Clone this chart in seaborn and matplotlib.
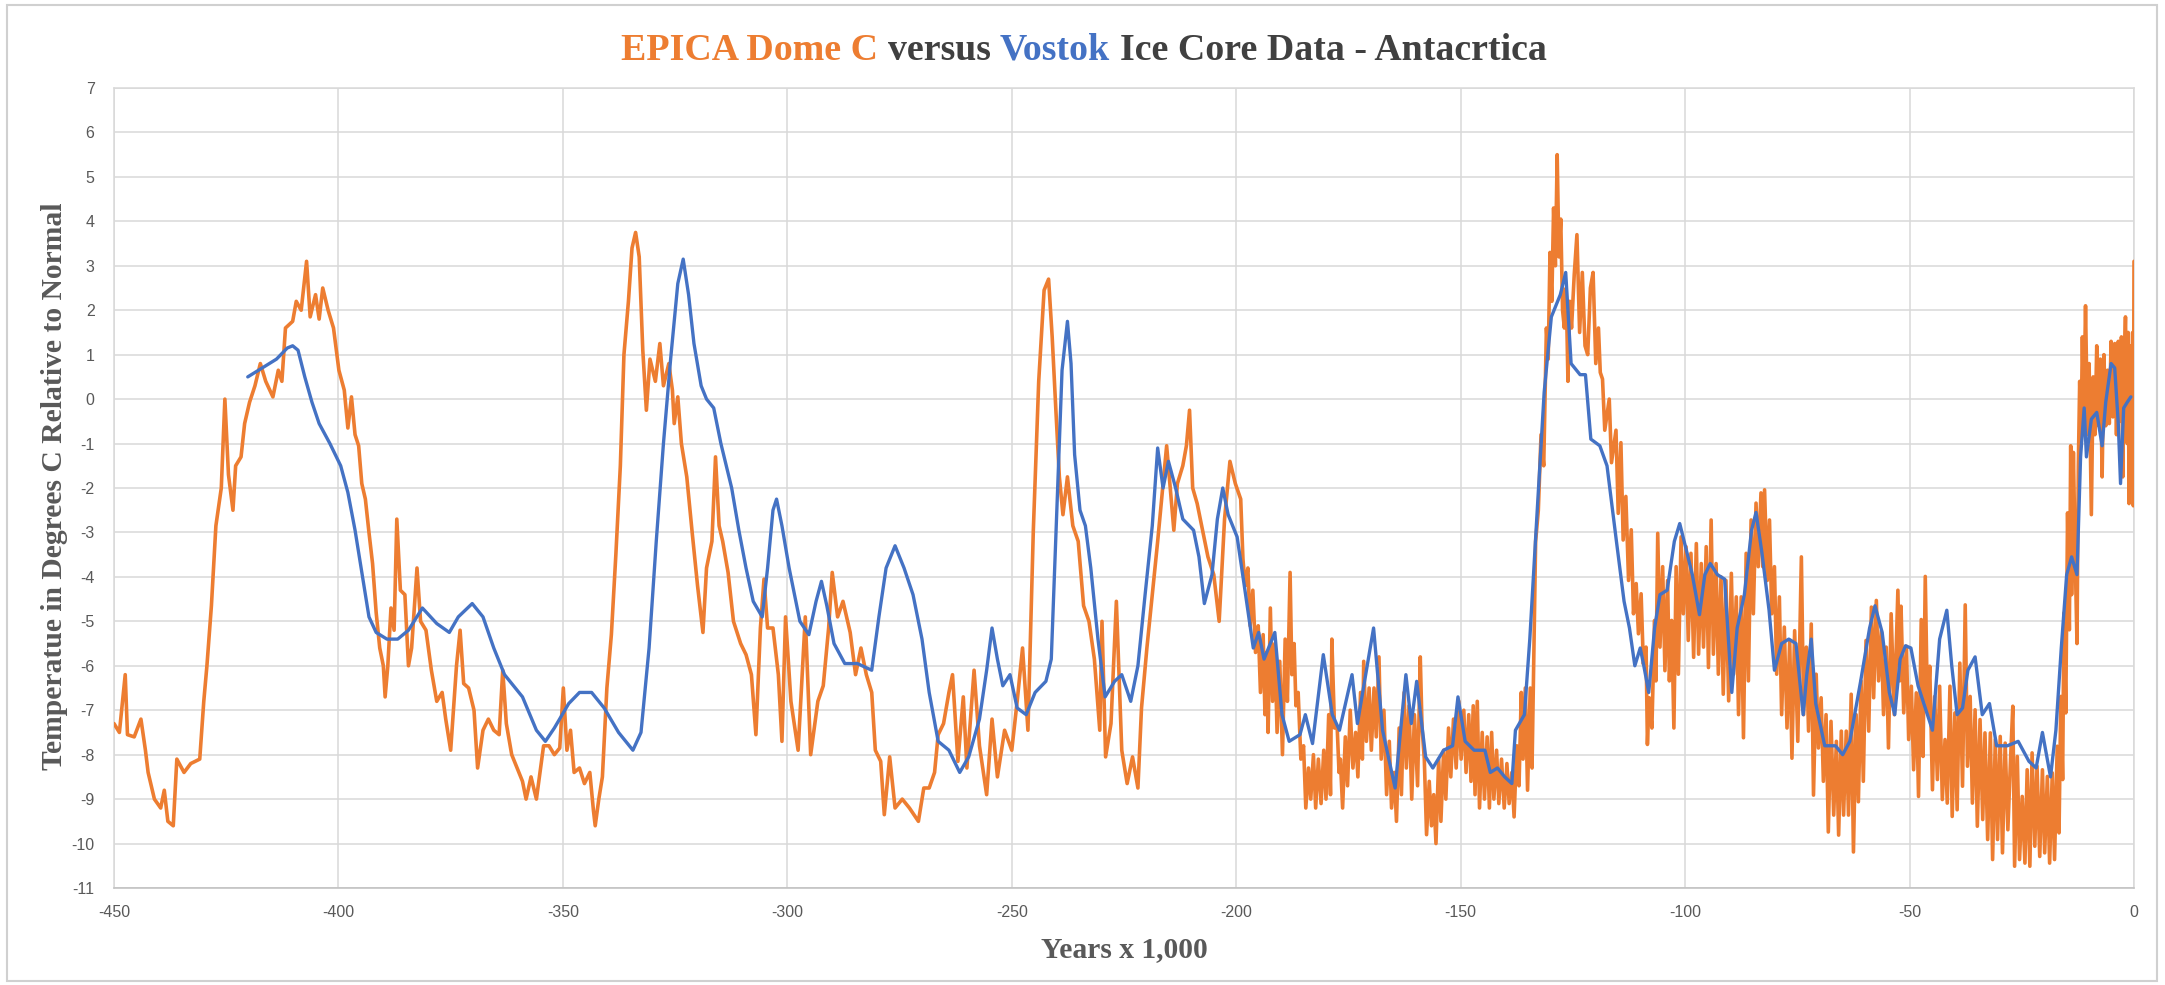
import numpy as np
import pandas as pd
import matplotlib
matplotlib.use("Agg")
import matplotlib.pyplot as plt
from matplotlib.patches import Rectangle
import seaborn as sns

# ---------------- data ----------------
# EPICA Dome C, segment -450 .. -199 kyr
epica_years_a = [
    -450, -448.8, -447.5, -447, -445.5, -444, -443, -442.4, -441, -439.6, -438.8, -438, -436.8, -436,
    -434.4, -432.9, -430.9, -430, -429.3, -428.3, -427.3, -426.1, -425.3, -424.5, -423.5, -422.9,
    -421.7, -420.9, -419.8, -418.6, -417.4, -416.2, -414.6, -413.4, -412.6, -411.8, -410.2, -409.4,
    -408.3, -407.1, -406.3, -405.1, -404.3, -403.5, -402.3, -401.1, -399.9, -398.7, -397.9, -397.1,
    -396.3, -395.5, -394.8, -394, -393.2, -392.4, -391.6, -390.8, -390, -389.6, -389, -388.3, -387.6,
    -387, -386.2, -385.2, -384.4, -383.7, -382.5, -381.7, -380.5, -379.3, -378.1, -376.9, -376.1,
    -375, -373.7, -372.9, -372.1, -371, -369.8, -369, -367.8, -366.6, -365.4, -364.2, -363.4, -362.6,
    -361.4, -360.2, -359, -358.2, -357.1, -355.9, -354.3, -353.1, -351.9, -350.7, -349.9, -349.1,
    -348.3, -347.5, -346.3, -345.2, -344, -343.2, -342.8, -342, -341.2, -340.2, -339.2, -338.2,
    -337.2, -336.4, -335.4, -334.6, -333.8, -333.0, -332.2, -331.4, -330.6, -329.4, -328.4, -327.6,
    -326.4, -325.6, -325.2, -324.4, -323.6, -322.4, -321.2, -320, -318.8, -318, -316.8, -316, -315.2,
    -314.4, -313.2, -312, -310.4, -309.2, -308, -307, -306, -305.2, -304.4, -303.2, -302, -301.2,
    -300.4, -299.2, -297.6, -296, -294.8, -293.2, -292, -290.8, -290, -288.8, -287.6, -286, -284.8,
    -283.6, -282.4, -281.2, -280.4, -279.2, -278.4, -277.2, -276, -274.4, -272.8, -270.8, -269.6,
    -268.4, -267.2, -266.4, -265.2, -264, -263.2, -262, -260.8, -260, -258.4, -257.2, -255.6, -254.4,
    -253.2, -251.6, -250, -248.8, -247.6, -246.4, -245.2, -244, -242.8, -241.8, -241, -240.2, -239.4,
    -238.6, -237.6, -236.4, -235.2, -234, -232.8, -231.6, -230.4, -229.9, -229.1, -227.9, -226.7,
    -225.5, -224.3, -223.1, -221.9, -221.1, -219.9, -218.7, -217.5, -216.3, -215.5, -214.7, -213.9,
    -213.1, -211.9, -211.1, -210.4, -209.7, -208.7, -207.5, -206.3, -205, -203.8, -202.6, -201.4,
    -200.2, -199,
]
epica_temp_a = [
    -7.3, -7.5, -6.2, -7.55, -7.6, -7.2, -7.9, -8.4, -9.0, -9.2, -8.8, -9.5, -9.6, -8.1,
    -8.4, -8.2, -8.1, -6.8, -6.0, -4.65, -2.85, -2.0, 0.0, -1.7, -2.5, -1.5,
    -1.3, -0.55, -0.07, 0.3, 0.8, 0.4, 0.05, 0.65, 0.4, 1.6, 1.75, 2.2,
    2.0, 3.1, 1.85, 2.35, 1.8, 2.5, 2.0, 1.6, 0.65, 0.2, -0.65, 0.05,
    -0.8, -1.05, -1.9, -2.25, -3.0, -3.7, -4.8, -5.6, -6.0, -6.7, -6.0, -4.7, -5.2,
    -2.7, -4.3, -4.4, -6.0, -5.6, -3.8, -5.0, -5.2, -6.1, -6.8, -6.6, -7.2,
    -7.9, -6.0, -5.2, -6.4, -6.5, -7.0, -8.3, -7.45, -7.2, -7.45, -7.55, -6.1, -7.3,
    -8.0, -8.3, -8.6, -9.0, -8.5, -9.0, -7.8, -7.8, -8.0, -7.85, -6.5, -7.9,
    -7.45, -8.4, -8.3, -8.65, -8.4, -9.25, -9.6, -9.0, -8.5, -6.5, -5.3, -3.5,
    -1.5, 1.0, 2.2, 3.4, 3.75, 3.2, 1.1, -0.25, 0.9, 0.4, 1.25, 0.3,
    0.8, 0.2, -0.55, 0.05, -1.0, -1.75, -3.0, -4.2, -5.25, -3.8, -3.2, -1.3, -2.85,
    -3.2, -3.9, -5.0, -5.5, -5.75, -6.2, -7.55, -5.15, -4.05, -5.15, -5.15, -6.2, -7.7,
    -4.9, -6.8, -7.9, -4.9, -8.0, -6.8, -6.45, -5.15, -3.9, -4.9, -4.55, -5.25, -6.2,
    -5.6, -6.2, -6.6, -7.9, -8.15, -9.35, -8.05, -9.2, -9.0, -9.2, -9.5, -8.75,
    -8.75, -8.4, -7.55, -7.3, -6.6, -6.2, -8.15, -6.7, -8.3, -6.1, -7.8, -8.9, -7.2,
    -8.5, -7.45, -7.9, -6.8, -5.6, -7.45, -2.95, 0.4, 2.45, 2.7, 1.4, -0.2, -1.75,
    -2.6, -1.75, -2.85, -3.2, -4.65, -5.0, -5.85, -7.45, -5.0, -8.05, -7.3, -4.55,
    -7.9, -8.65, -8.05, -8.75, -6.95, -5.6, -4.4, -3.2, -1.9, -1.05, -2.0, -2.95,
    -1.9, -1.5, -1.05, -0.25, -2.0, -2.35, -2.95, -3.55, -3.95, -5.0, -2.7, -1.4,
    -1.9, -2.25,
]
# EPICA, segment -198.5 .. -134 kyr (noisy band: alternating highs and lows)
epica_years_b = [
    -198.5, -198.0, -197.4, -196.9, -196.3, -195.7, -195.1, -194.6, -194.0, -193.6, -193.3, -192.9,
    -192.4, -191.9, -191.4, -190.9, -190.3, -189.7, -189.1, -188.6, -188.0, -187.6, -187.1, -186.7,
    -186.2, -185.6, -185.0, -184.5, -183.9, -183.4, -182.8, -182.3, -181.7, -181.1, -180.5, -180.0,
    -179.4, -179.0, -178.7, -178.1, -177.5, -177.1, -176.8, -176.3, -175.7, -175.2, -174.6, -174.0,
    -173.4, -172.9, -172.3, -171.9, -171.6, -171.0, -170.4, -169.9, -169.3, -168.8, -168.2, -167.7,
    -167.1, -166.5, -165.9, -165.4, -164.8, -164.3, -163.7, -163.2, -162.6, -162.1, -161.5, -160.9,
    -160.3, -159.6, -159.0, -158.6, -158.1, -157.6, -157.0, -156.5, -156.0, -155.5, -154.9, -154.4,
    -153.8, -153.3, -152.7, -152.2, -151.6, -151.0, -150.4, -149.9, -149.3, -148.8, -148.2, -147.7,
    -147.2, -146.8, -146.3, -145.8, -145.2, -144.7, -144.1, -143.6, -143.1, -142.6, -142.0, -141.5,
    -140.9, -140.3, -139.7, -139.2, -138.6, -138.1, -137.5, -137.0, -136.5, -136.1, -135.6, -135.1,
    -134.5, -134.1,
]
epica_temp_b = [
    -3.6, -4.2, -3.8, -5.1, -4.3, -5.7, -5.1, -6.6, -5.3, -7.1, -5.7, -7.5,
    -4.7, -6.8, -5.5, -7.5, -5.9, -8.0, -5.4, -6.8, -3.9, -6.2, -5.5, -6.9,
    -6.6, -8.1, -7.8, -9.2, -8.3, -9.0, -8.0, -9.2, -8.1, -9.1, -7.9, -9.0,
    -7.1, -8.9, -5.4, -7.4, -7.4, -8.4, -8.1, -9.2, -7.6, -8.7, -7.0, -8.3,
    -7.5, -8.5, -6.6, -8.1, -5.9, -7.7, -6.5, -7.9, -6.5, -7.6, -5.8, -8.1,
    -7.0, -8.9, -7.7, -9.2, -8.4, -9.5, -7.4, -8.9, -6.6, -8.3, -6.9, -9.0,
    -7.1, -8.7, -5.8, -7.4, -8.1, -9.8, -8.6, -9.6, -8.9, -10.0, -8.1, -9.5,
    -7.9, -9.0, -7.4, -8.5, -7.2, -8.3, -6.8, -8.1, -7.0, -8.4, -7.1, -8.6,
    -6.9, -8.9, -6.8, -9.2, -7.5, -9.0, -7.6, -9.2, -7.5, -9.0, -7.9, -9.1,
    -8.1, -9.2, -8.2, -9.1, -8.4, -9.4, -7.8, -8.7, -6.6, -8.1, -6.5, -8.8,
    -6.5, -8.3,
]
# EPICA, segment -133.3 .. -118.9 kyr (last interglacial peak)
epica_years_c = [
    -133.3, -132.7, -132.1, -131.5, -130.9, -130.5, -130.1, -129.7, -129.3, -128.9, -128.5, -128.1,
    -127.7, -127.3, -126.9, -126.5, -126.1, -125.7, -125.3, -124.7, -124.1, -123.5, -122.9, -122.3,
    -121.7, -121.1, -120.5, -119.9, -119.3, -118.9,
]
epica_temp_c = [
    -3.2, -2.5, -0.8, -1.5, 1.6, 0.9, 3.3, 2.2, 4.3, 3.0, 5.5, 3.2,
    4.05, 2.0, 1.6, 2.5, 0.4, 2.2, 1.6, 2.8, 3.7, 1.5, 2.85, 1.2,
    1.0, 2.5, 2.85, 0.8, 1.6, 0.6,
]
# EPICA, segment -118.4 .. -52.2 kyr
epica_years_d = [
    -118.4, -117.9, -116.9, -116.4, -115.4, -114.9, -114.3, -113.8, -113.2, -112.6, -112.0, -111.5,
    -110.9, -110.4, -109.8, -109.3, -108.7, -108.4, -108.0, -107.4, -106.8, -106.5, -106.1, -105.6,
    -105.0, -104.5, -103.9, -103.5, -103.0, -102.5, -102.0, -101.5, -100.9, -100.4, -99.8, -99.3,
    -98.7, -98.1, -97.5, -97.0, -96.4, -95.9, -95.3, -94.8, -94.2, -93.7, -93.1, -92.6,
    -92.0, -91.5, -90.9, -90.3, -89.7, -89.2, -88.6, -88.1, -87.5, -87.0, -86.4, -85.9,
    -85.3, -84.8, -84.2, -83.7, -83.1, -82.7, -82.3, -81.7, -81.2, -80.7, -80.1, -79.6,
    -79.0, -78.5, -77.9, -77.3, -76.7, -76.2, -75.6, -74.9, -74.1, -73.6, -73.0, -72.5,
    -71.9, -71.4, -70.8, -70.3, -69.7, -69.2, -68.6, -68.1, -67.5, -66.9, -66.3, -65.8,
    -65.2, -64.7, -64.1, -63.6, -63.0, -62.5, -61.9, -61.4, -60.8, -60.3, -59.7, -59.1,
    -58.5, -58.0, -57.4, -56.9, -56.3, -55.8, -55.2, -54.7, -54.1, -53.4, -52.6, -52.2,
]
epica_temp_d = [
    0.45, -0.7, 0.0, -1.43, -0.7, -2.57, -0.98, -3.17, -2.19, -4.08, -2.94, -4.83,
    -4.15, -5.28, -4.38, -5.96, -5.58, -7.77, -6.72, -7.4, -4.98, -6.34, -3.02, -5.58,
    -3.77, -6.11, -4.08, -6.34, -4.98, -7.4, -3.77, -6.19, -3.1, -4.83, -3.32, -5.43,
    -3.47, -5.81, -3.25, -5.74, -3.7, -5.58, -3.32, -6.04, -2.72, -5.74, -3.7, -6.19,
    -4.0, -6.64, -4.08, -6.79, -3.92, -6.19, -4.45, -7.1, -4.45, -7.62, -3.47, -6.34,
    -2.72, -4.83, -2.34, -3.77, -2.11, -3.77, -2.04, -4.08, -2.72, -4.83, -3.77, -6.19,
    -4.45, -7.1, -5.13, -7.4, -5.43, -8.08, -5.21, -7.7, -3.55, -7.1, -5.58, -7.47,
    -5.06, -8.91, -6.19, -7.85, -6.72, -8.6, -7.1, -9.74, -7.25, -9.36, -7.7, -9.81,
    -7.47, -9.36, -7.47, -9.36, -6.64, -10.19, -7.1, -9.06, -6.34, -8.6, -5.43, -7.47,
    -4.68, -6.72, -4.53, -6.34, -5.21, -7.1, -5.58, -7.85, -4.83, -7.1, -4.3, -6.34,
]
# EPICA, segment -51.9 .. -14.1 kyr (last glacial)
epica_years_e = [
    -51.9, -51.3, -50.7, -50.2, -49.6, -49.1, -48.5, -48.0, -47.4, -47.0, -46.5, -46.0,
    -45.5, -44.9, -44.4, -43.8, -43.3, -42.7, -42.1, -41.6, -41.0, -40.5, -39.9, -39.4,
    -38.8, -38.2, -37.6, -37.1, -36.5, -36.0, -35.4, -34.9, -34.3, -33.7, -33.2, -32.6,
    -32.0, -31.5, -30.9, -30.4, -29.8, -29.3, -28.7, -28.1, -27.5, -27.0, -26.6, -26.0,
    -25.5, -24.9, -24.3, -23.8, -23.2, -22.7, -22.1, -21.6, -21.0, -20.4, -19.9, -19.3,
    -18.8, -18.2, -17.7, -17.1, -16.7, -16.3, -15.9, -15.6, -15.2, -14.8, -14.4, -14.1,
]
epica_temp_e = [
    -4.66, -7.06, -5.56, -7.66, -6.46, -8.34, -6.61, -8.94, -4.96, -8.04, -3.99, -7.06,
    -6.01, -8.79, -6.69, -8.56, -6.46, -9.01, -7.66, -9.09, -6.46, -9.39, -7.06, -9.24,
    -5.94, -8.71, -4.63, -8.26, -6.69, -9.09, -6.99, -9.61, -7.21, -9.46, -7.51, -9.91,
    -7.51, -10.36, -7.66, -9.91, -7.59, -10.21, -7.74, -9.69, -8.11, -6.91, -10.51, -8.04,
    -10.36, -8.94, -10.44, -8.34, -10.51, -7.96, -10.06, -8.26, -10.29, -8.34, -10.21, -8.49,
    -10.44, -8.41, -10.36, -7.81, -9.76, -6.69, -8.56, -4.81, -7.06, -2.56, -5.19, -1.05,
]
# EPICA, segment -13.9 .. 0 kyr (Holocene)
epica_years_f = [
    -13.9, -13.5, -13.1, -12.7, -12.4, -12.1, -11.8, -11.5, -11.2, -10.8, -10.5, -10.3,
    -10.0, -9.5, -9.1, -8.7, -8.3, -7.9, -7.5, -7.1, -6.7, -6.3, -5.9, -5.5,
    -5.1, -4.7, -4.3, -3.9, -3.5, -3.1, -2.8, -2.5, -2.2, -1.9, -1.5, -1.3,
    -1.1, -0.8, -0.5, -0.3, -0.15, 0,
]
epica_temp_f = [
    -4.4, -1.2, -3.55, -5.5, -1.5, 0.4, -1.0, 1.4, -0.5, 2.1, 0.2, -0.8,
    0.8, -2.6, 0.5, -0.8, 1.2, -0.6, 0.9, -1.75, 1.0, -0.6, 0.65, -0.55,
    1.3, -0.4, 1.25, -0.8, 1.3, -0.5, 1.4, -1.75, 0.8, 1.85, -1.0, 1.5,
    -2.35, 1.2, -0.5, 1.5, -2.4, 3.1,
]

vostok_years = [
    -420.2, -417, -413.8, -411.4, -410.2, -409, -407.5, -405.9, -404.3, -401.9, -399.5, -397.9,
    -396.3, -394.8, -393.2, -391.6, -389.2, -386.8, -384.4, -381.3, -378.1, -375.3, -373.3, -370.2,
    -367.8, -365.4, -363, -359, -355.9, -353.9, -351.9, -348.7, -346.3, -343.6, -340.8, -337.6,
    -334.4, -332.6, -330.8, -329.2, -327.6, -326, -324.4, -323.2, -322, -320.8, -319.2, -318,
    -316.4, -314.8, -312.4, -310.8, -309.2, -307.6, -305.6, -304.4, -303.2, -302.4, -301.2, -299.6,
    -297.2, -295.2, -293.6, -292.4, -291.2, -289.6, -287.2, -284.4, -281.2, -279.6, -278, -276,
    -274, -272, -270, -268.4, -266.4, -264, -261.6, -259.6, -257.2, -255.6, -254.4, -253.2, -252,
    -250.4, -248.8, -246.8, -244.8, -242.4, -241.2, -240, -238.8, -237.6, -236.8, -236, -234.8,
    -233.6, -232.4, -230.8, -229.2, -227.1, -225.5, -223.5, -221.9, -220.3, -218.7, -217.5, -216.3,
    -215.1, -213.5, -211.9, -209.5, -208.3, -207.1, -205.4, -204.2, -203, -201.8, -199.8, -198.2,
    -196.2, -195, -193.8, -191.4, -189.8, -188.2, -185.8, -184.6, -183, -180.6, -178.6, -177,
    -174.2, -173, -169.4, -167.4, -164.6, -162.2, -161, -159.8, -157.8, -156.2, -153.8, -151.8,
    -150.6, -149, -147, -144.6, -143.4, -141.8, -140.2, -138.6, -137.8, -135.8, -134.6, -133,
    -131.4, -129.8, -127.8, -126.6, -125.4, -123.4, -122.2, -121, -119, -117.4, -115.3, -113.6,
    -112.4, -111.2, -110, -109.2, -108.1, -106.8, -105.6, -104, -102.4, -101.2, -99.6, -98.4,
    -96.8, -95.6, -94.4, -92.8, -91.2, -89.6, -88.4, -86.8, -85.2, -84.2, -82.9, -81.3, -80.1,
    -78.5, -76.9, -75.3, -73.7, -72.9, -71.9, -70.9, -68.9, -66.5, -64.9, -63.3, -60.9, -58.9,
    -57.7, -56.1, -54.5, -53.3, -52.1, -50.9, -49.7, -48.1, -46.5, -44.9, -43.3, -41.7, -40.6,
    -39.4, -38.2, -37, -35.4, -33.8, -32.2, -30.6, -28.2, -25.8, -23.4, -21.8, -20.4, -18.6,
    -17.4, -16.2, -15, -13.9, -12.7, -11.9, -11.1, -10.6, -9.5, -8.3, -7.1, -6.3, -5.1, -4.3,
    -3.5, -3.0, -2.3, -1.5, -0.7,
]
vostok_temp = [
    0.5, 0.7, 0.9, 1.15, 1.2, 1.1, 0.5, -0.07, -0.55, -1.0, -1.5, -2.1,
    -2.95, -3.9, -4.9, -5.25, -5.4, -5.4, -5.2, -4.7, -5.05, -5.25, -4.9, -4.6,
    -4.9, -5.6, -6.2, -6.7, -7.45, -7.7, -7.4, -6.85, -6.6, -6.6, -6.95, -7.5,
    -7.9, -7.5, -5.6, -3.2, -1.0, 0.9, 2.6, 3.15, 2.35, 1.25, 0.3, 0.0,
    -0.2, -1.0, -2.0, -2.95, -3.8, -4.55, -4.9, -3.8, -2.5, -2.25, -2.85, -3.8,
    -5.0, -5.3, -4.55, -4.1, -4.65, -5.5, -5.95, -5.95, -6.1, -4.9, -3.8, -3.3,
    -3.8, -4.4, -5.4, -6.6, -7.7, -7.9, -8.4, -8.05, -7.2, -6.1, -5.15, -5.85, -6.45,
    -6.2, -6.95, -7.1, -6.6, -6.35, -5.85, -2.6, 0.65, 1.75, 0.8, -1.25, -2.5,
    -2.85, -3.8, -5.4, -6.7, -6.35, -6.2, -6.8, -6.0, -4.4, -2.85, -1.1, -2.0,
    -1.4, -2.0, -2.7, -2.95, -3.55, -4.6, -3.95, -2.7, -2.0, -2.6, -3.1, -4.2,
    -5.6, -5.25, -5.85, -5.25, -7.1, -7.7, -7.55, -7.1, -7.75, -5.75, -7.1, -7.45,
    -6.2, -7.3, -5.15, -7.45, -8.75, -6.2, -7.3, -6.35, -8.05, -8.3, -7.9, -7.8,
    -6.7, -7.7, -7.9, -7.9, -8.4, -8.3, -8.5, -8.65, -7.45, -7.1, -5.4, -2.6,
    0.15, 1.85, 2.35, 2.85, 0.8, 0.55, 0.55, -0.9, -1.05, -1.5, -3.2, -4.55,
    -5.15, -6.0, -5.6, -6.0, -6.6, -5.15, -4.4, -4.3, -3.2, -2.8, -3.45, -3.95,
    -4.85, -3.95, -3.7, -3.95, -4.05, -6.6, -5.15, -4.4, -2.95, -2.55, -3.45, -4.75, -6.1,
    -5.5, -5.4, -5.5, -7.1, -6.2, -5.4, -6.85, -7.8, -7.8, -8.0, -7.7, -6.35, -5.15,
    -4.65, -5.25, -6.6, -7.1, -5.85, -5.55, -5.6, -6.45, -6.95, -7.45, -5.4, -4.75, -6.0,
    -7.1, -6.95, -6.1, -5.8, -7.1, -6.85, -7.8, -7.8, -7.7, -8.15, -8.3, -7.5, -8.5,
    -7.45, -5.6, -3.95, -3.55, -3.95, -1.3, -0.2, -1.3, -0.45, -0.3, -1.05, -0.07, 0.8, 0.7,
    -0.55, -1.9, -0.2, -0.07, 0.05,
]

x_ticks = [-450, -400, -350, -300, -250, -200, -150, -100, -50, 0]
y_ticks = list(range(-11, 8))

title_parts = ["EPICA Dome C", "versus", "Vostok", "Ice Core Data - Antacrtica"]
x_label = "Years x 1,000"
y_label = "Temperatue in Degrees C Relative to Normal"

# ---------------- styling ----------------
ORANGE = "#ED7D31"
BLUE = "#4472C4"
GRID = "#D9D9D9"
TXT = "#595959"
SERIF = ["Liberation Serif", "DejaVu Serif"]

sns.set_style("white")
plt.rcParams["font.family"] = ["Liberation Sans", "DejaVu Sans"]
plt.rcParams["axes.unicode_minus"] = False

W, H = 2165, 985
fig = plt.figure(figsize=(W / 100, H / 100), dpi=100)
fig.patch.set_facecolor("white")

L, R, T, B = 114, 2134, 88, 888
ax = fig.add_axes([L / W, 1 - B / H, (R - L) / W, (B - T) / H])

df_e = pd.DataFrame({
    "year": epica_years_a + epica_years_b + epica_years_c + epica_years_d + epica_years_e + epica_years_f,
    "temp": epica_temp_a + epica_temp_b + epica_temp_c + epica_temp_d + epica_temp_e + epica_temp_f,
})
df_v = pd.DataFrame({"year": vostok_years, "temp": vostok_temp})

sns.lineplot(data=df_e, x="year", y="temp", ax=ax, color=ORANGE, lw=2.6,
             sort=False, estimator=None, zorder=3)
sns.lineplot(data=df_v, x="year", y="temp", ax=ax, color=BLUE, lw=2.4,
             sort=False, estimator=None, zorder=4)

ax.set_xlim(-450, 0)
ax.set_ylim(-11, 7)
ax.set_xticks(x_ticks)
ax.set_yticks(y_ticks)
ax.grid(True, color=GRID, lw=1.1)
ax.set_axisbelow(True)
for s in ax.spines.values():
    s.set_color(GRID)
    s.set_linewidth(1.1)
ax.spines["bottom"].set_color("#BFBFBF")
ax.tick_params(axis="both", length=0, colors=TXT, labelsize=11.5)
ax.tick_params(axis="x", pad=12)
ax.tick_params(axis="y", pad=14)
ax.set_xlabel("")
ax.set_ylabel("")

# axis titles
fig.text((L + R) / 2 / W, 1 - 950 / H, x_label, ha="center", va="center",
         fontsize=21.3, fontweight="bold", color=TXT, family=SERIF)
fig.text(55 / W, 1 - 486 / H, y_label, ha="center", va="center", rotation=90,
         fontsize=21.3, fontweight="bold", color=TXT, family=SERIF)

# multi-coloured title
colors = [ORANGE, "#404040", BLUE, "#404040"]
fig.canvas.draw()
renderer = fig.canvas.get_renderer()
tkw = dict(fontsize=27.3, fontweight="bold", family=SERIF, va="center", ha="left")
texts = [fig.text(0, 1 - 50 / H, s, color=c, **tkw) for s, c in zip(title_parts, colors)]
probe1 = fig.text(0, 0, "x x", **tkw)
probe2 = fig.text(0, 0, "xx", **tkw)
space = probe1.get_window_extent(renderer).width - probe2.get_window_extent(renderer).width
probe1.remove(); probe2.remove()
widths = [t.get_window_extent(renderer).width for t in texts]
total = sum(widths) + space * (len(texts) - 1)
xpos = 1084 - total / 2
for t, w in zip(texts, widths):
    t.set_x(xpos / W)
    xpos += w + space

# chart border
fig.patches.append(Rectangle((7 / W, 4 / H), (2157 - 7) / W, (980 - 4) / H,
                             transform=fig.transFigure, fill=False,
                             edgecolor="#D0D0D0", lw=1.5))

fig.savefig("out.png", dpi=100, facecolor="white")
